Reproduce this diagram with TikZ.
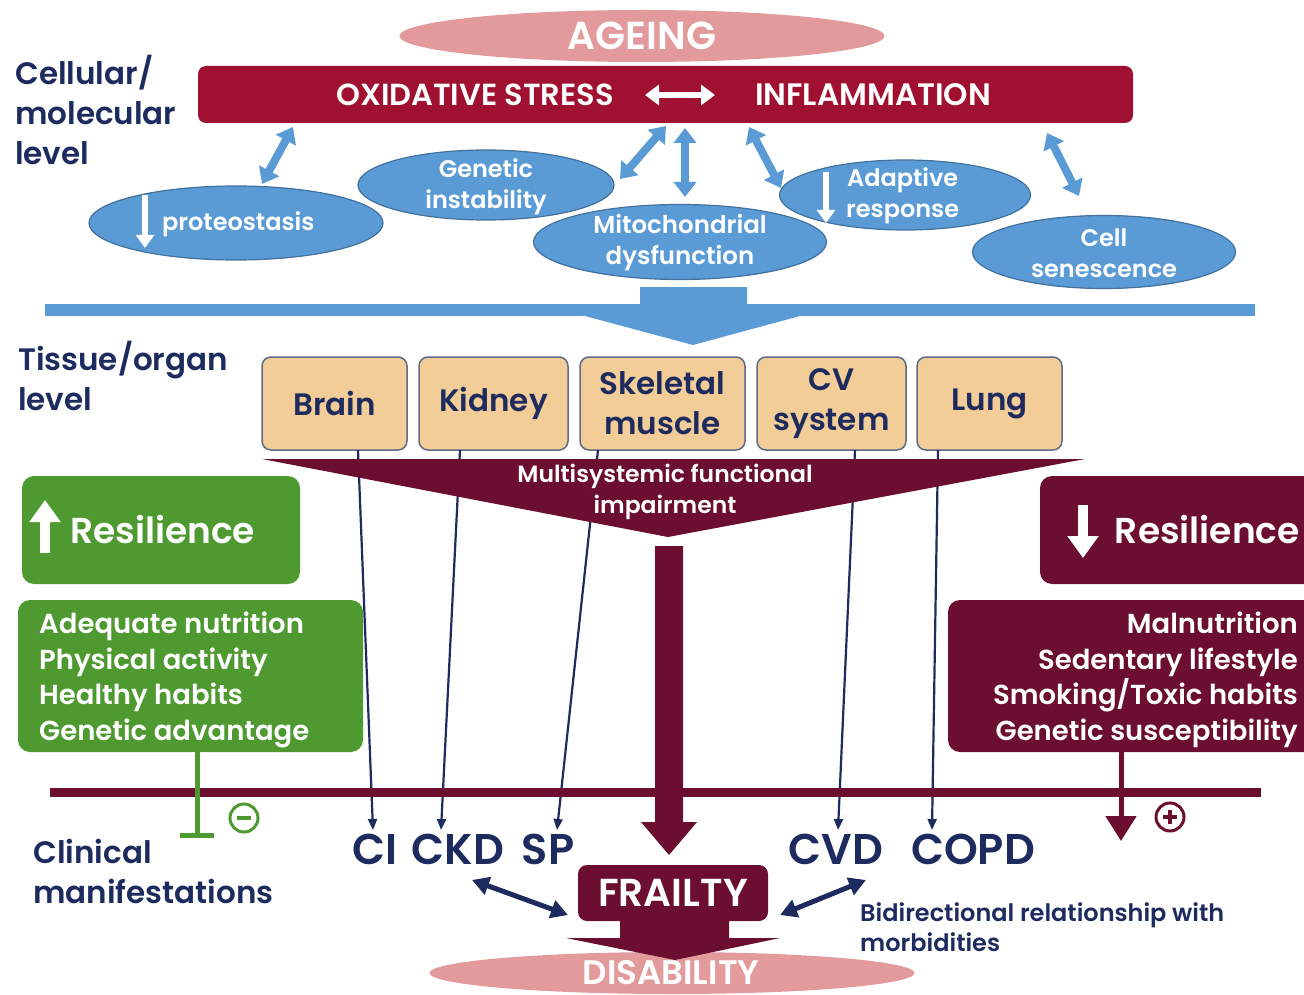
\documentclass[tikz,border=0pt]{standalone}
\usepackage{fontspec}
\setmainfont{Poppins}
\newfontfamily\semib{Poppins SemiBold}
\usetikzlibrary{arrows.meta,shapes.geometric,calc}
\definecolor{navy}{HTML}{1E2B5E}
\definecolor{crimson}{HTML}{A01030}
\definecolor{maroon}{HTML}{6B0E30}
\definecolor{rose}{HTML}{E39A9C}
\definecolor{blueF}{HTML}{5B9BD5}
\definecolor{blueD}{HTML}{41719C}
\definecolor{tan}{HTML}{F2CD98}
\definecolor{tanD}{HTML}{5F6B86}
\definecolor{leaf}{HTML}{4E9A31}
\newcommand\fsz[2]{\fontsize{#1}{#2}\selectfont}
\begin{document}
\begin{tikzpicture}[x=1pt,y=-1pt,
  lbl/.style={text=navy, anchor=west, inner sep=0, align=left, font=\semib\fsz{31}{40}},
  wt/.style={text=white, inner sep=0, align=center},
  blob/.style={ellipse, fill=blueF, draw=blueD, line width=1.2, inner sep=0},
  blobtxt/.style={wt, font=\semib\fsz{24}{31}},
  organ/.style={rounded corners=9, fill=tan, draw=tanD, line width=1.5, minimum height=93, inner sep=0, text=navy, align=center, font=\semib\fsz{31}{40}},
  fatlink/.style={blueF, line width=8, {Triangle[width=22pt,length=15pt]}-{Triangle[width=22pt,length=15pt]}},
  organlink/.style={navy, line width=2.2, -{Triangle[width=9pt,length=11pt]}},
  twoway/.style={navy, line width=5, {Triangle[width=18pt,length=17pt]}-{Triangle[width=18pt,length=17pt]}},
  whitearrow/.style={white, line width=#1, -{Triangle[width=3*#1,length=2.2*#1]}},
  disease/.style={text=navy, inner sep=0, font=\semib\fsz{43}{50}},
  listtxt/.style={wt, font=\semib\fsz{27.5}{35.5}},
]
\useasboundingbox (0,0) rectangle (1304,995);

% ---------- cellular / molecular level ----------
\node[ellipse, fill=rose, minimum width=485, minimum height=52, inner sep=0] (ageing) at (642,36) {};
\node[wt, font=\semib\fsz{39}{44}] (ageingtxt) at (642,36) {AGEING};

\node[rounded corners=8, fill=crimson, minimum width=935, minimum height=57, inner sep=0] (bar) at (665.5,94.5) {};
\node[wt, font=\semib\fsz{30.5}{36}] (ox) at (475,95) {OXIDATIVE STRESS};
\node[wt, font=\semib\fsz{31}{36}] (infl) at (873,95) {INFLAMMATION};
\coordinate (oxr) at (645,95);
\coordinate (infll) at (715,95);
\draw[white, line width=6, {Triangle[width=20pt,length=14pt]}-{Triangle[width=20pt,length=14pt]}] (oxr) -- (infll);

\node[lbl] (cell) at (15,110) {Cellular/\\molecular\\level};

\node[blob, minimum width=294, minimum height=74] (prot) at (236,223) {};
\node[blob, minimum width=256, minimum height=70] (gen) at (486,185) {};
\node[blob, minimum width=251, minimum height=70] (adap) at (905,195) {};
\node[blob, minimum width=293, minimum height=75] (mito) at (680,242) {};
\node[blob, minimum width=263, minimum height=73] (sen) at (1104,252) {};

\node[blobtxt, anchor=west] (prottxt) at (162,224) {proteostasis};
\coordinate (protA) at (145,195);
\coordinate (protB) at (145,248);
\draw[whitearrow=6] (protA) -- (protB);
\node[blobtxt] (gentxt) at (486,187) {Genetic\\instability};
\node[blobtxt, font=\semib\fsz{24.5}{31}] (mitotxt) at (680,243) {Mitochondrial\\dysfunction};
\node[blobtxt, anchor=west] (adaptxt) at (846,196) {Adaptive\\response};
\coordinate (adapA) at (826,172);
\coordinate (adapB) at (826,223);
\draw[whitearrow=6] (adapA) -- (adapB);
\node[blobtxt] (sentxt) at (1104,253) {Cell\\senescence};

% links between the ellipses and the stress bar
\coordinate (l1a) at (262,184); \coordinate (l1b) at (293,127);
\coordinate (l2a) at (620,179); \coordinate (l2b) at (666,126);
\coordinate (l3a) at (685,197); \coordinate (l3b) at (685,128);
\coordinate (l4a) at (781,188); \coordinate (l4b) at (749,127);
\coordinate (l5a) at (1079,196); \coordinate (l5b) at (1047,133);
\foreach \a/\b in {l1a/l1b,l2a/l2b,l3a/l3b,l4a/l4b,l5a/l5b}
  \draw[fatlink] (\a) -- (\b);

% blue divider with its downward block arrow
\fill[blueF] (45,304) rectangle (1255,316);
\fill[blueF] (640,287) -- (747,287) -- (747,304) -- (800,316) -- (693,345) -- (585,316) -- (640,304) -- cycle;

% ---------- tissue / organ level ----------
\node[lbl] (tissue) at (18,376) {Tissue/organ\\level};

\node[organ, minimum width=145] (brain) at (334.5,403.5) {Brain};
\node[organ, minimum width=149] (kidney) at (493.5,403.5) {Kidney};
\node[organ, minimum width=165] (muscle) at (662.5,403.5) {Skeletal\\muscle};
\node[organ, minimum width=149] (cvs) at (831.5,403.5) {CV\\system};
\node[organ, minimum width=145] (lung) at (989.5,403.5) {Lung};

% organ links down to the clinical conditions
\coordinate (o1) at (358,450); \coordinate (c1) at (373,830);
\coordinate (o2) at (460,450); \coordinate (c2) at (441,830);
\coordinate (o3) at (598,450); \coordinate (c3) at (557,830);
\coordinate (o4) at (855,450); \coordinate (c4) at (838,830);
\coordinate (o5) at (938,450); \coordinate (c5) at (932,830);
\foreach \a/\b in {o1/c1,o2/c2,o3/c3,o4/c4,o5/c5}
  \draw[organlink] (\a) -- (\b);

\fill[maroon] (262,459) -- (1085,459) -- (668,537) -- cycle;
\node[wt, font=\semib\fsz{23.5}{31}] (msfi) at (665,492) {Multisystemic functional\\impairment};

% thick arrow down to frailty
\fill[maroon] (655,546) -- (683,546) -- (683,822) -- (697,822) -- (669,855) -- (641,822) -- (655,822) -- cycle;

% resilience boxes
\node[rounded corners=12, fill=leaf, minimum width=278, minimum height=108, inner sep=0] (resup) at (161,530) {};
\coordinate (upA) at (45,553); \coordinate (upB) at (45,500);
\draw[whitearrow=10] (upA) -- (upB);
\node[wt, anchor=west, font=\semib\fsz{36}{40}] (resuptxt) at (70,530) {Resilience};

\node[rounded corners=12, fill=leaf, minimum width=345, minimum height=152, inner sep=0] (good) at (190.5,676) {};
\node[listtxt, anchor=west, align=left] (goodtxt) at (39,680) {Adequate nutrition\\Physical activity\\Healthy habits\\Genetic advantage};

\node[rounded corners=12, fill=maroon, minimum width=280, minimum height=108, inner sep=0] (resdn) at (1180,530) {};
\coordinate (dnA) at (1083,505); \coordinate (dnB) at (1083,558);
\draw[whitearrow=10] (dnA) -- (dnB);
\node[wt, anchor=east, font=\semib\fsz{36}{40}] (resdntxt) at (1300,530) {Resilience};

\node[rounded corners=12, fill=maroon, minimum width=370, minimum height=152, inner sep=0] (bad) at (1133,676) {};
\node[listtxt, anchor=east, align=right] (badtxt) at (1298,680) {Malnutrition\\Sedentary lifestyle\\Smoking/Toxic habits\\Genetic susceptibility};

% clinical level line
\draw[maroon, line width=9] (50,792) -- (1261,792);

% inhibition from protective factors
\coordinate (gA) at (197,752); \coordinate (gB) at (197,838);
\draw[leaf, line width=5, -{Bar[width=34pt,line width=5pt]}] (gA) -- (gB);
\node[circle, draw=leaf, line width=3, minimum size=28, inner sep=0] (minus) at (244,818) {};
\draw[leaf, line width=3.5] ($(minus.center)+(-7,0)$) -- ($(minus.center)+(7,0)$);

% promotion from risk factors
\coordinate (mA) at (1121,752); \coordinate (mB) at (1121,841);
\draw[maroon, line width=5, -{Triangle[width=30pt,length=25pt]}] (mA) -- (mB);
\node[circle, draw=maroon, line width=3, minimum size=28, inner sep=0] (plus) at (1170,817) {};
\draw[maroon, line width=3.5] ($(plus.center)+(-7,0)$) -- ($(plus.center)+(7,0)$);
\draw[maroon, line width=3.5] ($(plus.center)+(0,-7)$) -- ($(plus.center)+(0,7)$);

% ---------- clinical manifestations ----------
\node[lbl] (clin) at (33,871) {Clinical\\manifestations};

\node[disease] (ci) at (375,849) {CI};
\node[disease] (ckd) at (458,849) {CKD};
\node[disease] (sp) at (548,849) {SP};
\node[disease] (cvd) at (836,849) {CVD};
\node[disease] (copd) at (973,849) {COPD};

% frailty leading to disability
\node[ellipse, fill=rose, minimum width=485, minimum height=42, inner sep=0] (disab) at (672,973) {};
\fill[maroon] (620,918) -- (729,918) -- (729,938) -- (780,938) -- (675,960) -- (566,938) -- (620,938) -- cycle;
\node[text=white, inner sep=0, text height=24pt, text depth=0pt, font=\semib\fsz{34}{34}] (disabtxt) at (671,972) {DISABILITY};

\node[rounded corners=9, fill=maroon, minimum width=190, minimum height=56, inner sep=0, text=white, font=\semib\fsz{39}{44}] (frail) at (673,893) {FRAILTY};

\coordinate (bl) at (472,880); \coordinate (blf) at (568,915);
\coordinate (br) at (866,880); \coordinate (brf) at (780,915);
\draw[twoway] (bl) -- (blf);
\draw[twoway] (br) -- (brf);

\node[anchor=west, text=navy, inner sep=0, align=left, font=\semib\fsz{24}{30}] (bidir) at (860,927) {Bidirectional relationship with\\morbidities};
\end{tikzpicture}
\end{document}
